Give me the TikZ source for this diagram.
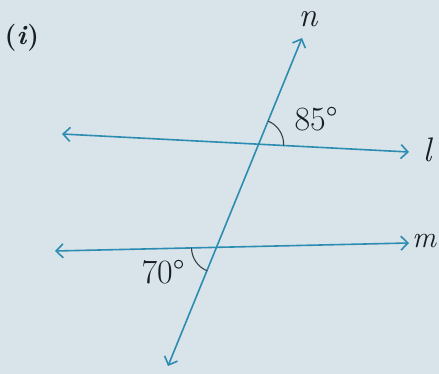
\documentclass[tikz,border=0pt]{standalone}
\usepackage{fontspec}
\usetikzlibrary{arrows.meta,calc}
\definecolor{bg}{RGB}{216,228,233}
\definecolor{ln}{RGB}{45,140,178}
\definecolor{tx}{RGB}{25,30,35}
\begin{document}
\begin{tikzpicture}[x=1pt,y=-1pt,
  geo/.style={draw=ln,line width=1.6pt,{Straight Barb[length=7pt,width=14pt,line width=1.6pt]}-{Straight Barb[length=7pt,width=14pt,line width=1.6pt]}},
  arc/.style={draw=tx!85,line width=1.1pt},
  lab/.style={text=tx,font=\fontsize{34}{38}\selectfont,inner sep=0pt}]
\fill[bg] (0,0) rectangle (439,374);
\useasboundingbox (0,0) rectangle (439,374);
\coordinate (lL) at (62,134);
\coordinate (lR) at (409,152);
\coordinate (mL) at (55,251);
\coordinate (mR) at (409,243);
\coordinate (nT) at (302,38);
\coordinate (nB) at (168,366);
\draw[geo] (lL) -- (lR);
\draw[geo] (mL) -- (mR);
\draw[geo] (nB) -- (nT);
\coordinate (P) at (intersection of lL--lR and nB--nT);
\coordinate (Q) at (intersection of mL--mR and nB--nT);
% angle arcs (canvas angles)
\draw[arc] ($(P)!25pt!(lR)$) arc[start angle=-2.9, end angle=67.7, radius=25pt];
\draw[arc] ($(Q)!25pt!(mL)$) arc[start angle=180.7, end angle=248.1, radius=25pt];
\node[lab] (a85) at (316,119) {85°};
\node[lab] (a70) at (163,272) {70°};
\node[lab] (n) at (308,19) {\itshape n};
\node[lab] (l) at (427,150) {\itshape l};
\node[lab,font=\fontsize{30}{34}\selectfont] (m) at (424,241) {\itshape m};
\node[lab,font=\fontsize{27}{30}\selectfont\bfseries] (i) at (22,38) {(\textit{i})};
\end{tikzpicture}
\end{document}
